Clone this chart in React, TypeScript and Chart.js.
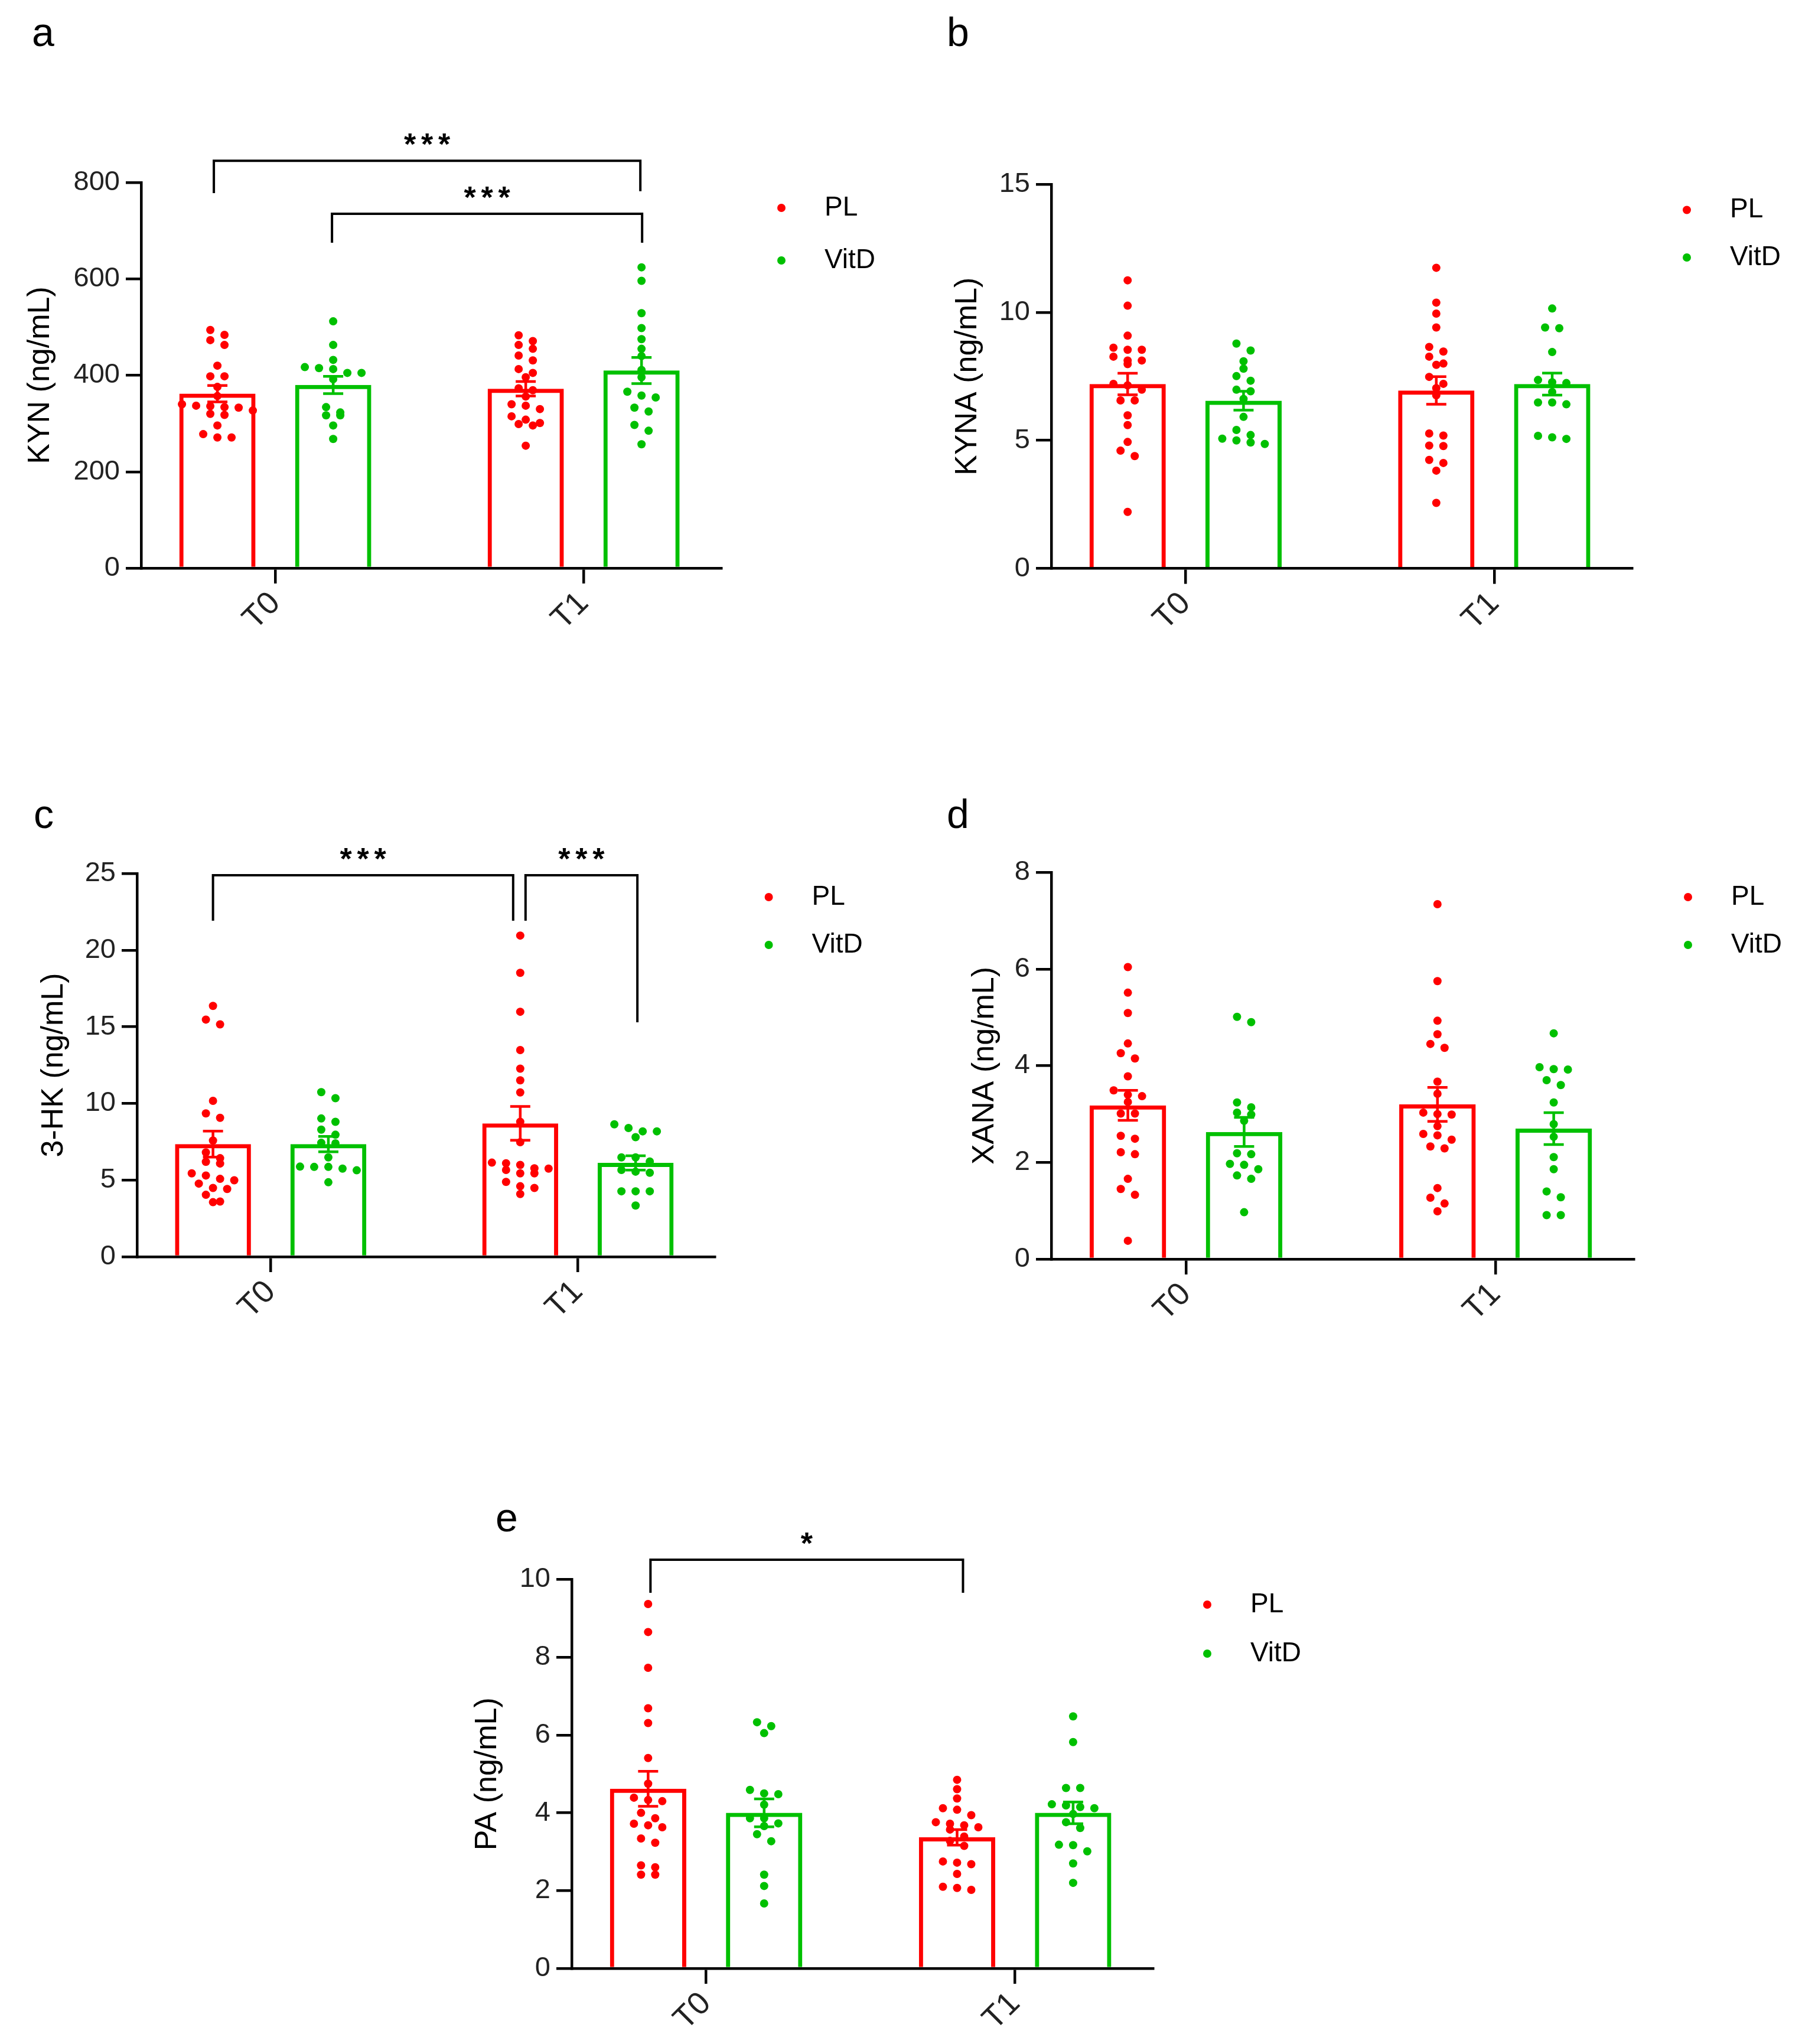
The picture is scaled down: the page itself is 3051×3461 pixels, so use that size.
import React, { useEffect, useRef } from 'react';
import { Chart, registerables } from 'chart.js';

Chart.register(...registerables);
Chart.defaults.font.family = '"Liberation Sans", Arial, Helvetica, sans-serif';

// ---------------- data ----------------
const CATEGORIES = ['T0', 'T1'];
const SERIES = ['PL', 'VitD'];
const SERIES_COLORS = ['#FF0000', '#00C000'];

// a: KYN
const KYN_TICKS = [0, 200, 400, 600, 800];
const KYN_PL_T0 = [494, 484, 473, 463, 420, 398, 398, 376, 357, 340, 337, 336, 334, 333, 327, 320, 318, 296, 278, 271, 271];
const KYN_PL_T1 = [483, 471, 463, 455, 441, 431, 413, 405, 396, 373, 369, 356, 340, 337, 330, 315, 308, 301, 299, 296, 254];
const KYN_VITD_T0 = [512, 463, 432, 417, 415, 413, 405, 405, 392, 334, 323, 317, 317, 296, 268];
const KYN_VITD_T1 = [624, 596, 529, 498, 475, 455, 440, 411, 396, 366, 358, 354, 333, 325, 297, 285, 257];
const KYN_MEAN_PL = [362, 372];
const KYN_SEM_PL = [17, 15];
const KYN_MEAN_VITD = [380, 410];
const KYN_SEM_VITD = [18, 27];

// b: KYNA
const KYNA_TICKS = [0, 5, 10, 15];
const KYNA_PL_T0 = [11.25, 10.26, 9.09, 8.62, 8.54, 8.54, 8.27, 8.12, 8.12, 7.98, 7.21, 7.15, 6.98, 6.56, 6.56, 5.98, 5.6, 4.94, 4.6, 4.39, 2.21];
const KYNA_PL_T1 = [11.74, 10.38, 9.95, 9.41, 8.65, 8.47, 8.27, 8.0, 7.95, 7.48, 7.21, 7.04, 6.76, 5.27, 5.19, 4.8, 4.78, 4.24, 4.12, 3.82, 2.56];
const KYNA_VITD_T0 = [8.78, 8.51, 8.09, 7.8, 7.51, 7.33, 6.98, 6.92, 6.62, 5.92, 5.41, 5.21, 5.07, 5.0, 4.92, 4.86];
const KYNA_VITD_T1 = [10.15, 9.41, 9.38, 8.45, 7.36, 7.27, 7.24, 6.89, 6.48, 6.48, 6.41, 5.18, 5.12, 5.06];
const KYNA_MEAN_PL = [7.2, 6.95];
const KYNA_SEM_PL = [0.42, 0.54];
const KYNA_MEAN_VITD = [6.55, 7.2];
const KYNA_SEM_VITD = [0.37, 0.43];

// c: 3-HK
const HK_TICKS = [0, 5, 10, 15, 20, 25];
const HK_PL_T0 = [16.36, 15.47, 15.16, 10.17, 9.35, 9.06, 7.58, 6.81, 6.43, 6.19, 6.08, 5.44, 5.3, 5.08, 4.99, 4.77, 4.49, 4.42, 4.04, 3.6, 3.56];
const HK_PL_T1 = [20.95, 18.52, 15.98, 13.48, 12.27, 11.51, 10.72, 8.8, 7.47, 6.14, 6.1, 5.99, 5.77, 5.75, 5.66, 5.44, 5.44, 4.88, 4.6, 4.49, 4.09];
const HK_VITD_T0 = [10.74, 10.34, 9.02, 8.8, 8.29, 7.96, 7.43, 7.4, 6.48, 5.88, 5.86, 5.86, 5.75, 5.64, 4.86];
const HK_VITD_T1 = [8.64, 8.4, 8.18, 8.18, 7.8, 6.48, 6.48, 6.21, 5.66, 5.55, 5.48, 4.27, 4.27, 4.27, 3.34];
const HK_MEAN_PL = [7.35, 8.7];
const HK_SEM_PL = [0.85, 1.1];
const HK_MEAN_VITD = [7.35, 6.12];
const HK_SEM_VITD = [0.5, 0.47];

// d: XANA
const XANA_TICKS = [0, 2, 4, 6, 8];
const XANA_PL_T0 = [6.04, 5.51, 5.09, 4.46, 4.26, 4.15, 3.78, 3.49, 3.4, 3.37, 3.25, 3.01, 3.01, 2.55, 2.49, 2.21, 2.17, 1.66, 1.45, 1.33, 0.38];
const XANA_PL_T1 = [7.34, 5.75, 4.93, 4.65, 4.45, 4.37, 3.67, 3.42, 3.03, 3.0, 2.99, 2.75, 2.59, 2.56, 2.47, 2.33, 2.29, 1.47, 1.27, 1.15, 0.99];
const XANA_VITD_T0 = [5.01, 4.9, 3.24, 3.14, 3.03, 2.99, 2.86, 2.19, 2.17, 1.97, 1.95, 1.86, 1.73, 1.66, 0.97];
const XANA_VITD_T1 = [4.67, 3.97, 3.93, 3.92, 3.7, 3.6, 3.24, 2.79, 2.53, 2.11, 1.86, 1.4, 1.28, 0.91, 0.91];
const XANA_MEAN_PL = [3.18, 3.2];
const XANA_SEM_PL = [0.31, 0.35];
const XANA_MEAN_VITD = [2.63, 2.7];
const XANA_SEM_VITD = [0.3, 0.33];

// e: PA
const PA_TICKS = [0, 2, 4, 6, 8, 10];
const PA_PL_T0 = [9.37, 8.65, 7.73, 6.69, 6.31, 5.41, 4.75, 4.39, 4.33, 4.3, 4.0, 3.86, 3.72, 3.68, 3.63, 3.34, 3.23, 2.65, 2.6, 2.41, 2.41];
const PA_PL_T1 = [4.85, 4.61, 4.37, 4.12, 4.08, 3.94, 3.76, 3.72, 3.68, 3.63, 3.57, 3.39, 3.28, 3.15, 2.75, 2.72, 2.68, 2.43, 2.1, 2.07, 2.02];
const PA_VITD_T0 = [6.33, 6.23, 6.05, 4.59, 4.5, 4.48, 4.21, 3.86, 3.86, 3.73, 3.66, 3.45, 3.27, 2.41, 2.12, 1.67];
const PA_VITD_T1 = [6.48, 5.82, 4.64, 4.64, 4.22, 4.19, 4.15, 4.12, 3.97, 3.76, 3.61, 3.18, 3.17, 3.01, 2.7, 2.2];
const PA_MEAN_PL = [4.62, 3.37];
const PA_SEM_PL = [0.45, 0.2];
const PA_MEAN_VITD = [4.0, 4.0];
const PA_SEM_VITD = [0.36, 0.28];

// significance brackets: from/to = [categoryIndex, seriesIndex]
const KYN_BRACKETS = [
  { from: [0, 0], to: [1, 1], y: 845, legL: 778, legR: 782, text: '***', shiftL: -6, shiftR: -2 },
  { from: [0, 1], to: [1, 1], y: 735, legL: 675, legR: 675, text: '***', shiftL: -2, shiftR: 1 },
];
const HK_BRACKETS = [
  { from: [0, 0], to: [1, 0], y: 24.88, legL: 21.92, legR: 21.92, text: '***', shiftL: 0, shiftR: -12 },
  { from: [1, 0], to: [1, 1], y: 24.88, legL: 21.92, legR: 15.29, text: '***', shiftL: 9, shiftR: 3 },
];
const PA_BRACKETS = [
  { from: [0, 0], to: [1, 0], y: 10.51, legL: 9.66, legR: 9.66, text: '*', shiftL: 4, shiftR: 10 },
];

// ---------------- styling / layout ----------------
const X_MIN = -0.435;
const X_MAX = 1.446;
const CAT_PCT = 0.751;
const BAR_PCT = 0.658;
const POINT_R = 7;
const SWARM_STEP_PX = 24;
const ROW_PX = 12;
const TICK_FONT = 47;
const XTICK_FONT = 54;
const TITLE_FONT = 52;
const LEGEND_FONT = 46;
const LETTER_FONT = 68;
const STAR_FONT = 52;
const CAP_HALF = 17;
const AXIS_W = 4.5;
const BAR_W = 7;
const FONT_FAMILY = '"Liberation Sans", Arial, Helvetica, sans-serif';

type Bracket = { from: number[]; to: number[]; y: number; legL: number; legR: number; text: string; shiftL: number; shiftR: number };
type PanelCfg = {
  letter: string;
  title: string;
  canvas: { left: number; top: number; width: number; height: number };
  plot: { left: number; top: number; right: number; bottom: number };
  titleX: number;
  letterPos: number[];
  legend: { x: number; y: number; gap: number };
  ticks: number[];
  pl: number[][];
  vitd: number[][];
  meanPL: number[];
  semPL: number[];
  meanVitD: number[];
  semVitD: number[];
  brackets: Bracket[];
};

const PANELS: PanelCfg[] = [
  {
    letter: 'a', title: 'KYN (ng/mL)',
    canvas: { left: 0, top: 0, width: 1545, height: 1100 },
    plot: { left: 239, top: 309, right: 1221, bottom: 962 },
    titleX: 69, letterPos: [54, 78], legend: { x: 1323, y: 352, gap: 89 },
    ticks: KYN_TICKS, pl: [KYN_PL_T0, KYN_PL_T1], vitd: [KYN_VITD_T0, KYN_VITD_T1],
    meanPL: KYN_MEAN_PL, semPL: KYN_SEM_PL, meanVitD: KYN_MEAN_VITD, semVitD: KYN_SEM_VITD,
    brackets: KYN_BRACKETS,
  },
  {
    letter: 'b', title: 'KYNA (ng/mL)',
    canvas: { left: 1560, top: 0, width: 1491, height: 1100 },
    plot: { left: 1780, top: 312, right: 2763, bottom: 962.6 },
    titleX: 1639, letterPos: [1603, 78], legend: { x: 2856, y: 355.5, gap: 80.5 },
    ticks: KYNA_TICKS, pl: [KYNA_PL_T0, KYNA_PL_T1], vitd: [KYNA_VITD_T0, KYNA_VITD_T1],
    meanPL: KYNA_MEAN_PL, semPL: KYNA_SEM_PL, meanVitD: KYNA_MEAN_VITD, semVitD: KYNA_SEM_VITD,
    brackets: [],
  },
  {
    letter: 'c', title: '3-HK (ng/mL)',
    canvas: { left: 0, top: 1330, width: 1545, height: 930 },
    plot: { left: 232, top: 1479, right: 1210.5, bottom: 2128 },
    titleX: 92, letterPos: [57, 1402], legend: { x: 1301.6, y: 1519, gap: 81 },
    ticks: HK_TICKS, pl: [HK_PL_T0, HK_PL_T1], vitd: [HK_VITD_T0, HK_VITD_T1],
    meanPL: HK_MEAN_PL, semPL: HK_SEM_PL, meanVitD: HK_MEAN_VITD, semVitD: HK_SEM_VITD,
    brackets: HK_BRACKETS,
  },
  {
    letter: 'd', title: 'XANA (ng/mL)',
    canvas: { left: 1560, top: 1330, width: 1491, height: 930 },
    plot: { left: 1780, top: 1477, right: 2766, bottom: 2132 },
    titleX: 1668, letterPos: [1603, 1402], legend: { x: 2858, y: 1519, gap: 81 },
    ticks: XANA_TICKS, pl: [XANA_PL_T0, XANA_PL_T1], vitd: [XANA_VITD_T0, XANA_VITD_T1],
    meanPL: XANA_MEAN_PL, semPL: XANA_SEM_PL, meanVitD: XANA_MEAN_VITD, semVitD: XANA_SEM_VITD,
    brackets: [],
  },
  {
    letter: 'e', title: 'PA (ng/mL)',
    canvas: { left: 740, top: 2520, width: 1560, height: 941 },
    plot: { left: 968, top: 2674.5, right: 1952, bottom: 3333 },
    titleX: 826, letterPos: [839, 2593], legend: { x: 2044, y: 2717, gap: 83 },
    ticks: PA_TICKS, pl: [PA_PL_T0, PA_PL_T1], vitd: [PA_VITD_T0, PA_VITD_T1],
    meanPL: PA_MEAN_PL, semPL: PA_SEM_PL, meanVitD: PA_MEAN_VITD, semVitD: PA_SEM_VITD,
    brackets: PA_BRACKETS,
  },
];

// Deterministic row-based beeswarm (Prism-like): points with near-equal values share a row
function swarmOffsets(values: number[], pxPerY: number, pxPerX: number): number[] {
  const order = values.map((_, i) => i).sort((a, b) => values[b] - values[a]);
  const offsets = new Array(values.length).fill(0);
  let row: number[] = [];
  let rowStart = 0;
  const flush = () => {
    const n = row.length;
    row.forEach((k, j) => {
      offsets[k] = ((j - (n - 1) / 2) * SWARM_STEP_PX) / pxPerX;
    });
    row = [];
  };
  for (const k of order) {
    const py = values[k] * pxPerY;
    if (row.length && rowStart - py > ROW_PX) flush();
    if (!row.length) rowStart = py;
    row.push(k);
  }
  flush();
  return offsets;
}

function Panel({ cfg }: { cfg: PanelCfg }) {
  const ref = useRef<HTMLCanvasElement | null>(null);

  useEffect(() => {
    const canvas = ref.current;
    if (!canvas) return;
    const c = cfg.canvas;
    const p = cfg.plot;
    const yMax = cfg.ticks[cfg.ticks.length - 1];
    const plotW = p.right - p.left;
    const plotH = p.bottom - p.top;
    const pxPerX = plotW / (X_MAX - X_MIN);
    const pxPerY = plotH / yMax;
    const padLeft = cfg.titleX - c.left - (TITLE_FONT * 1.2) / 2;
    const yW = p.left - c.left - padLeft;
    const xH = c.top + c.height - p.bottom;
    const groupOff = CAT_PCT / 4;

    const points = (groups: number[][], s: number) =>
      groups.flatMap((vals, ci) => {
        const offs = swarmOffsets(vals, pxPerY, pxPerX);
        return vals.map((v, k) => ({ x: ci + (s === 0 ? -groupOff : groupOff) + offs[k], y: v }));
      });

    const means = [cfg.meanPL, cfg.meanVitD];
    const sems = [cfg.semPL, cfg.semVitD];

    const extras = {
      id: 'panelExtras',
      beforeDatasetsDraw(chart: any) {
        const ctx = chart.ctx;
        const ys = chart.scales.y;
        ctx.save();
        ctx.lineWidth = 4.5;
        for (let s = 0; s < 2; s++) {
          const meta = chart.getDatasetMeta(s);
          meta.data.forEach((el: any, i: number) => {
            const x = el.x;
            const top = ys.getPixelForValue(means[s][i] + sems[s][i]);
            const bot = ys.getPixelForValue(means[s][i] - sems[s][i]);
            ctx.strokeStyle = SERIES_COLORS[s];
            ctx.beginPath();
            ctx.moveTo(x, top);
            ctx.lineTo(x, bot);
            ctx.moveTo(x - CAP_HALF, top);
            ctx.lineTo(x + CAP_HALF, top);
            ctx.moveTo(x - CAP_HALF, bot);
            ctx.lineTo(x + CAP_HALF, bot);
            ctx.stroke();
          });
        }
        ctx.restore();
      },
      afterDraw(chart: any) {
        const ctx = chart.ctx;
        const ys = chart.scales.y;
        ctx.save();
        // brackets
        ctx.strokeStyle = '#000';
        ctx.fillStyle = '#000';
        ctx.lineWidth = 4;
        for (const b of cfg.brackets) {
          const xL = chart.getDatasetMeta(b.from[1]).data[b.from[0]].x + b.shiftL;
          const xR = chart.getDatasetMeta(b.to[1]).data[b.to[0]].x + b.shiftR;
          const yb = ys.getPixelForValue(b.y);
          ctx.beginPath();
          ctx.moveTo(xL, ys.getPixelForValue(b.legL));
          ctx.lineTo(xL, yb);
          ctx.lineTo(xR, yb);
          ctx.lineTo(xR, ys.getPixelForValue(b.legR));
          ctx.stroke();
          const n = b.text.length;
          const cx = (xL + xR) / 2;
          ctx.font = `bold ${STAR_FONT}px ${FONT_FAMILY}`;
          ctx.textAlign = 'center';
          ctx.textBaseline = 'alphabetic';
          for (let k = 0; k < n; k++) {
            ctx.fillText(b.text[k], cx + (k - (n - 1) / 2) * 29, yb - 10);
          }
        }
        // legend
        ctx.font = `${LEGEND_FONT}px ${FONT_FAMILY}`;
        ctx.textAlign = 'left';
        ctx.textBaseline = 'middle';
        chart.data.datasets.forEach((ds: any, i: number) => {
          if (ds.type !== 'scatter') return;
          const s = i - 2;
          const lx = cfg.legend.x - c.left;
          const ly = cfg.legend.y + s * cfg.legend.gap - c.top;
          ctx.fillStyle = ds.backgroundColor;
          ctx.beginPath();
          ctx.arc(lx, ly, POINT_R, 0, Math.PI * 2);
          ctx.fill();
          ctx.fillStyle = '#000';
          ctx.fillText(ds.label, lx + 73, ly);
        });
        // panel letter
        ctx.font = `${LETTER_FONT}px ${FONT_FAMILY}`;
        ctx.textBaseline = 'alphabetic';
        ctx.fillStyle = '#000';
        ctx.fillText(cfg.letter, cfg.letterPos[0] - c.left, cfg.letterPos[1] - c.top);
        ctx.restore();
      },
    };

    const chart = new Chart(canvas, {
      type: 'bar',
      data: {
        datasets: [
          ...SERIES.map((name, s) => ({
            type: 'bar' as const,
            label: name + ' mean',
            data: (s === 0 ? cfg.meanPL : cfg.meanVitD).map((m, i) => ({ x: i, y: m })),
            backgroundColor: 'rgba(0,0,0,0)',
            borderColor: SERIES_COLORS[s],
            borderWidth: BAR_W,
            borderSkipped: 'start' as const,
            categoryPercentage: CAT_PCT,
            barPercentage: BAR_PCT,
            order: 2,
          })),
          ...SERIES.map((name, s) => ({
            type: 'scatter' as const,
            label: name,
            data: points(s === 0 ? cfg.pl : cfg.vitd, s),
            backgroundColor: SERIES_COLORS[s],
            borderWidth: 0,
            pointRadius: POINT_R,
            pointHoverRadius: POINT_R,
            pointStyle: 'circle' as const,
            order: 1,
          })),
        ],
      },
      options: {
        responsive: false,
        animation: false,
        events: [],
        layout: { padding: { left: padLeft, top: p.top - c.top, right: c.left + c.width - p.right, bottom: 0 } },
        plugins: { legend: { display: false }, tooltip: { enabled: false } },
        scales: {
          x: {
            type: 'linear',
            min: X_MIN,
            max: X_MAX,
            offset: false,
            afterBuildTicks: (s: any) => {
              s.ticks = CATEGORIES.map((_, i) => ({ value: i }));
            },
            afterFit: (s: any) => {
              s.height = xH;
            },
            ticks: {
              callback: (v: any) => CATEGORIES[v] ?? '',
              minRotation: 45,
              maxRotation: 45,
              font: { size: XTICK_FONT },
              color: '#222',
              padding: 2,
            },
            grid: { drawOnChartArea: false, drawTicks: true, tickLength: 26, color: '#000', lineWidth: AXIS_W, offset: false },
            border: { color: '#000', width: AXIS_W },
          },
          y: {
            type: 'linear',
            min: 0,
            max: yMax,
            afterBuildTicks: (s: any) => {
              s.ticks = cfg.ticks.map((v) => ({ value: v }));
            },
            afterFit: (s: any) => {
              s.width = yW;
            },
            ticks: { font: { size: TICK_FONT }, color: '#222', padding: 10 },
            grid: { drawOnChartArea: false, drawTicks: true, tickLength: 26, color: '#000', lineWidth: AXIS_W },
            border: { color: '#000', width: AXIS_W },
            title: { display: true, text: cfg.title, font: { size: TITLE_FONT }, color: '#000', padding: 0 },
          },
        },
      } as any,
      plugins: [extras],
    });
    return () => chart.destroy();
  }, [cfg]);

  return (
    <canvas
      ref={ref}
      width={cfg.canvas.width}
      height={cfg.canvas.height}
      style={{
        position: 'absolute',
        left: cfg.canvas.left,
        top: cfg.canvas.top,
        width: cfg.canvas.width,
        height: cfg.canvas.height,
      }}
    />
  );
}

export default function App() {
  return (
    <div style={{ position: 'absolute', left: 0, top: 0, width: 3051, height: 3461, background: '#fff', overflow: 'hidden' }}>
      {PANELS.map((p) => (
        <Panel key={p.letter} cfg={p} />
      ))}
    </div>
  );
}
